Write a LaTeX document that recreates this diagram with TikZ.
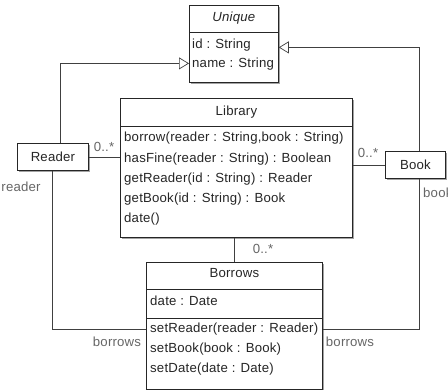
\documentclass[tikz,border=0pt]{standalone}
\usepackage{fontspec}
\setmainfont[LetterSpace=1.5]{Liberation Sans}
\usetikzlibrary{arrows.meta,shadows}
\begin{document}
\begin{tikzpicture}[x=1pt,y=-1pt,
  font=\fontsize{13.2}{15}\selectfont,
  umlbox/.style={draw=black!85,line width=0.8pt,fill=white,inner sep=0pt,anchor=north west,
     drop shadow={shadow xshift=1.3pt,shadow yshift=-1.3pt,fill=black!45,opacity=0.8}},
  txt/.style={inner sep=0pt,anchor=west,text=black!85},
  ctr/.style={inner sep=0pt,text=black!85},
  lbl/.style={inner sep=0pt,text=black!60},
  conn/.style={draw=black!75,line width=0.7pt},
  inherit/.style={conn,-{Triangle[open,length=10pt,width=12pt,fill=white]}},
  div/.style={draw=black!85,line width=0.8pt}
]
\useasboundingbox (0,0) rectangle (448,390);

% boxes
\node[umlbox,minimum width=89pt,minimum height=77pt] (unique) at (189,5) {};
\node[umlbox,minimum width=232pt,minimum height=139pt] (library) at (120,98) {};
\node[umlbox,minimum width=71pt,minimum height=27pt] (reader) at (17,143) {};
\node[umlbox,minimum width=60pt,minimum height=27pt] (book) at (385,151) {};
\node[umlbox,minimum width=176pt,minimum height=127pt] (borrows) at (146,262) {};

% dividers
\draw[div] (unique.west |- 0,32) -- (unique.east |- 0,32);
\draw[div] (library.west |- 0,126) -- (library.east |- 0,126);
\draw[div] (borrows.west |- 0,289) -- (borrows.east |- 0,289);
\draw[div] (borrows.west |- 0,318) -- (borrows.east |- 0,318);

% texts
\node[ctr] (uname) at (unique.center |- 0,18) {\textit{Unique}};
\node[txt] (uid) at (192,45) {id : String};
\node[txt] (uname2) at (192,64) {name : String};

\node[ctr] (lname) at (library.center |- 0,112) {Library};
\node[txt] (l1) at (124,138) {borrow(reader : String,book : String)};
\node[txt] (l2) at (124,159) {hasFine(reader : String) : Boolean};
\node[txt] (l3) at (124,179) {getReader(id : String) : Reader};
\node[txt] (l4) at (124,199) {getBook(id : String) : Book};
\node[txt] (l5) at (124,219) {date()};

\node[ctr] (rname) at (reader.center) {Reader};
\node[ctr] (bname) at (book.center) {Book};

\node[ctr] (brname) at (borrows.center |- 0,273) {Borrows};
\node[txt] (b0) at (150,301) {date : Date};
\node[txt] (b1) at (150,329) {setReader(reader : Reader)};
\node[txt] (b2) at (150,349) {setBook(book : Book)};
\node[txt] (b3) at (150,369) {setDate(date : Date)};

% connectors
\draw[inherit] ([xshift=7.5pt]reader.north) |- ([yshift=-19.5pt]unique.west);
\draw[inherit] ([xshift=4pt]book.north) |- ([yshift=-3.5pt]unique.east);
\draw[conn] (reader.east) -- (library.west |- reader.east);
\draw[conn] (book.west) -- (library.east |- book.west);
\draw[conn] (borrows.north) -- (library.south -| borrows.north);
\draw[conn] ([xshift=-0.5pt]reader.south) |- ([yshift=-3.5pt]borrows.west);
\draw[conn] ([xshift=4pt]book.south) |- ([yshift=-3.5pt]borrows.east);

% labels
\node[lbl] (m1) at (104,147) {0..*};
\node[lbl] (m2) at (368,153) {0..*};
\node[lbl] (m3) at (263,249) {0..*};
\node[lbl] (rr) at (21,187) {reader};
\node[lbl,anchor=west] (bb) at (423,193) {book};
\node[lbl] (bl) at (117,342) {borrows};
\node[lbl] (br) at (350,342) {borrows};
\end{tikzpicture}
\end{document}
